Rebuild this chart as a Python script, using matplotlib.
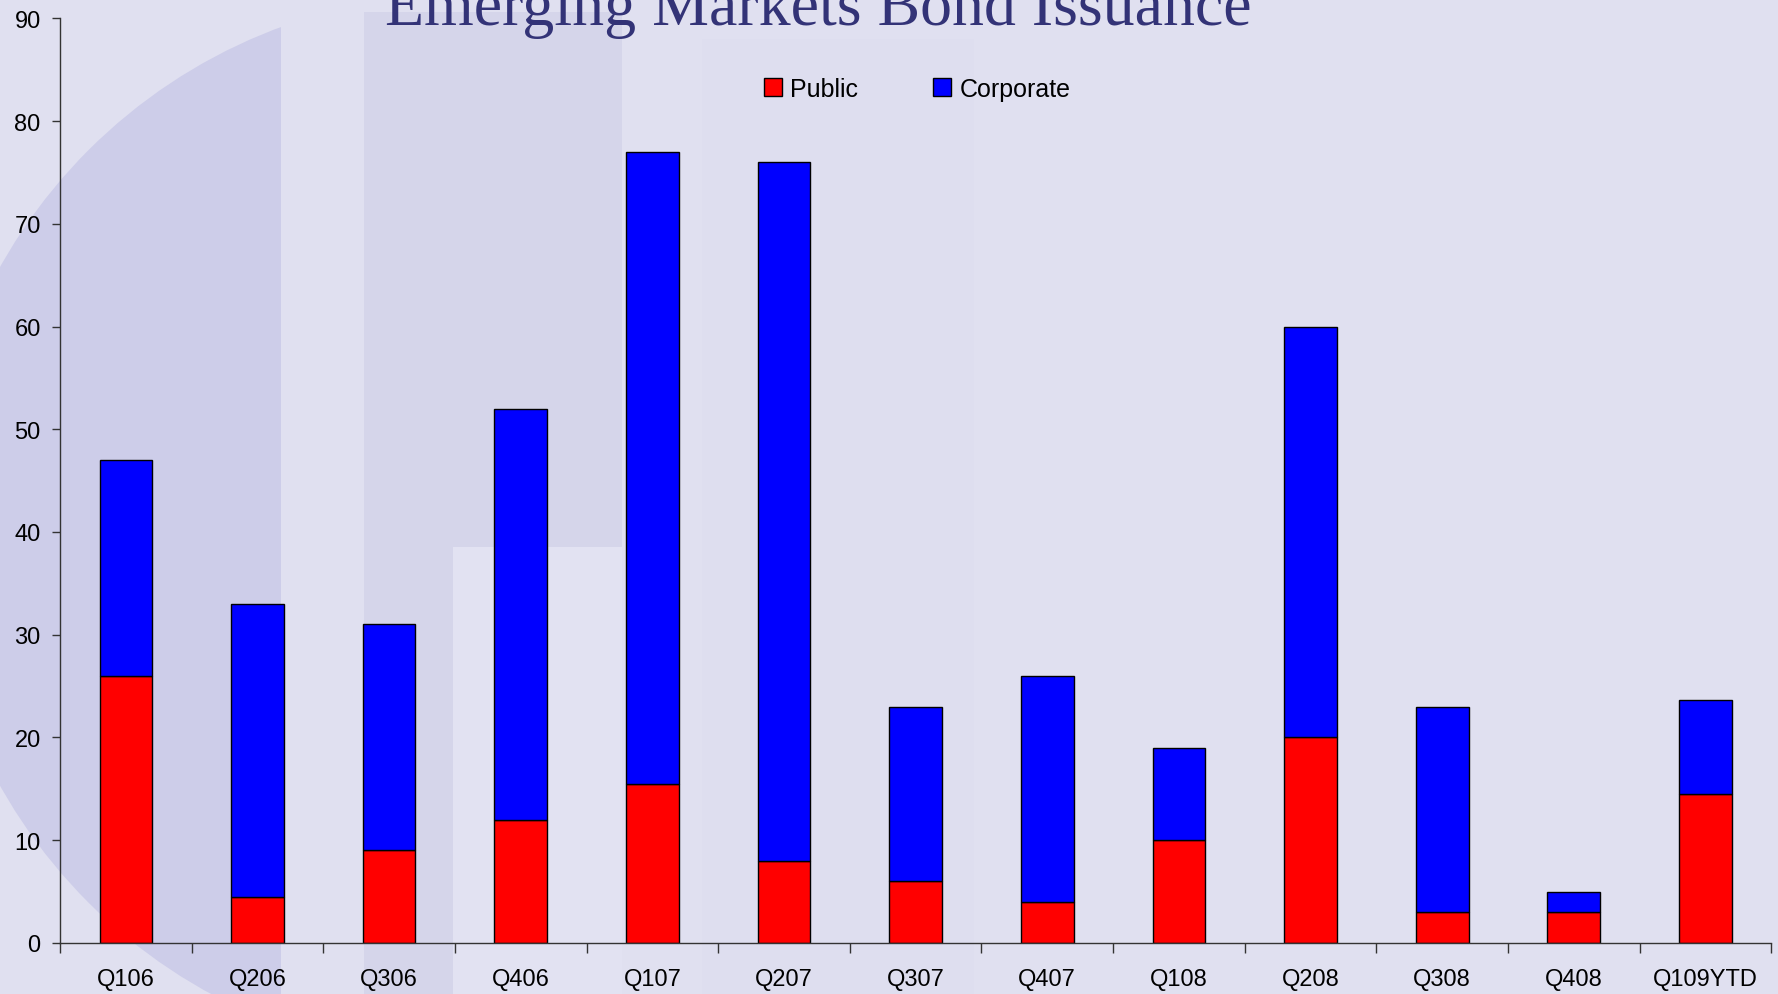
import numpy as np
import matplotlib.pyplot as plt
from matplotlib.patches import Rectangle, Ellipse

plt.rcParams['font.family'] = ['Liberation Sans', 'DejaVu Sans']

# Quarters
quarters = ['Q106', 'Q206', 'Q306', 'Q406', 'Q107', 'Q207', 'Q307',
            'Q407', 'Q108', 'Q208', 'Q308', 'Q408', 'Q109YTD']

# Issuance values
public = [26, 4.5, 9, 12, 15.5, 8, 6, 4, 10, 20, 3, 3, 14.5]
corporate = [21, 28.5, 22, 40, 61.5, 68, 17, 22, 9, 40, 20, 2, 9.1]

bg = '#E0E0F0'
fig = plt.figure(figsize=(17.78, 9.95), dpi=100, facecolor=bg)

# faint slide decoration behind the chart
deco = fig.add_axes([0, 0, 1, 1], zorder=-1)
deco.set_xlim(0, 1)
deco.set_ylim(0, 1)
deco.axis('off')
deco.add_patch(Rectangle((0.205, 0.0), 0.145, 0.987, facecolor='#D5D5EA', edgecolor='none'))
deco.add_patch(Rectangle((0.255, 0.0), 0.095, 0.449, facecolor='#E2E2F2', edgecolor='none'))
deco.add_patch(Rectangle((0.395, 0.0), 0.153, 0.96, facecolor='#DEDEEF', edgecolor='none'))
strip = Rectangle((0, 0), 0.158, 1, facecolor='none', edgecolor='none')
deco.add_patch(strip)
circ = Ellipse((0.262, 0.47), 0.60, 1.07, facecolor='#CDCDE9', edgecolor='none')
deco.add_patch(circ)
circ.set_clip_path(strip)

ax = fig.add_axes([0.0338, 0.0513, 0.9624, 0.9293])
ax.patch.set_alpha(0)

x = np.arange(len(quarters))
ax.bar(x, public, 0.4, color='#FF0000', edgecolor='black', linewidth=1, label='Public')
ax.bar(x, corporate, 0.4, bottom=public, color='#0000FF', edgecolor='black',
       linewidth=1, label='Corporate')

ax.set_xlim(-0.5, len(quarters) - 0.5)
ax.set_ylim(0, 90)
ax.set_yticks(np.arange(0, 91, 10))

ax.set_xticks(x)
ax.set_xticklabels(quarters)
ax.set_xticks(np.arange(-0.5, len(quarters), 1), minor=True)
ax.tick_params(axis='x', which='major', length=0, pad=18, labelsize=17)
ax.tick_params(axis='x', which='minor', length=7, width=1, color='#333333')
ax.tick_params(axis='y', length=6, width=1, color='#333333', pad=8, labelsize=17)

for s in ['top', 'right']:
    ax.spines[s].set_visible(False)
for s in ['left', 'bottom']:
    ax.spines[s].set_color('#333333')
    ax.spines[s].set_linewidth(1)

fig.text(0.46, 0.975, 'Emerging Markets Bond Issuance', ha='center', va='baseline',
         fontsize=46, family='Liberation Serif', color='#333377')

fig.legend(loc='center', bbox_to_anchor=(0.516, 0.91), ncol=2, frameon=False,
           fontsize=18, handlelength=0.7, handleheight=0.7, handletextpad=0.35,
           columnspacing=3.0)

plt.savefig('out.png', dpi=100, facecolor=bg)
